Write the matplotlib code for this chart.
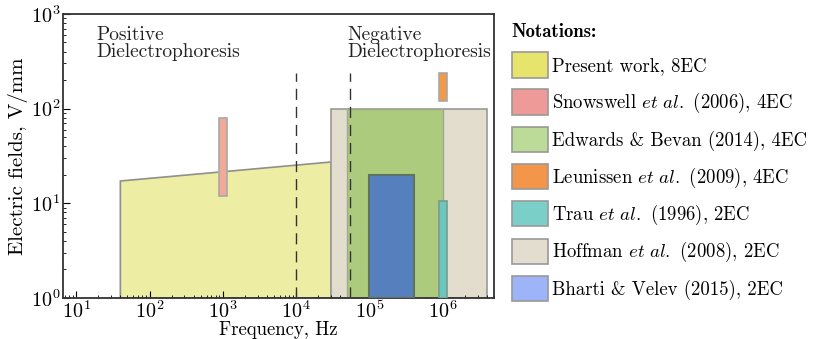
import matplotlib
matplotlib.use("Agg")
import matplotlib.pyplot as plt
from matplotlib.patches import Patch

plt.rcParams['font.family'] = 'serif'
plt.rcParams['font.serif'] = ['cmr10']
plt.rcParams['mathtext.fontset'] = 'cm'
plt.rcParams['axes.formatter.use_mathtext'] = True

# frequency ranges (Hz) and field ranges (V/mm) of each study
labels = ["Present work, 8EC",
          r"Snowswell $\mathit{et\ al.}$ (2006), 4EC",
          "Edwards & Bevan (2014), 4EC",
          r"Leunissen $\mathit{et\ al.}$ (2009), 4EC",
          r"Trau $\mathit{et\ al.}$ (1996), 2EC",
          r"Hoffman $\mathit{et\ al.}$ (2008), 2EC",
          "Bharti & Velev (2015), 2EC"]
legend_colors = ['#e6e46a', '#ee9a98', '#bcda98', '#f3964a', '#7ad0c8', '#e3ddcf', '#9db5f8']

# present work: trapezoid, field grows with frequency
present_f = [40, 40, 3e4, 3e4]
present_E = [1, 17.2, 27.3, 1]

# rectangular regions: (f_min, f_max, E_min, E_max)
snowswell = (0.9e3, 1.15e3, 12, 80)
edwards = (5e4, 1e6, 1, 100)
leunissen = (0.9e6, 1.15e6, 120, 240)
trau = (0.9e6, 1.15e6, 1, 10.6)
hoffman = (3e4, 4e6, 1, 100)
bharti = (1e5, 4e5, 1, 20)

# crossover frequencies
crossover = [1e4, 5.5e4]
crossover_top = 240


def box(ax, r, fc, ec, lw=1.2, z=1):
    f0, f1, e0, e1 = r
    ax.fill([f0, f0, f1, f1], [e0, e1, e1, e0], facecolor=fc, edgecolor=ec,
            linewidth=lw, zorder=z)


fig = plt.figure(figsize=(8.13, 3.39), dpi=100)
ax = fig.add_axes([0.0775, 0.121, 0.530, 0.838])

ax.fill(present_f, present_E, facecolor='#ededa3', edgecolor='#8f8f8f',
        linewidth=1.2, zorder=1)
box(ax, hoffman, '#e3ddce', '#999999', z=1)
box(ax, edwards, '#accb7d', '#a0a890', lw=1.0, z=2)
box(ax, bharti, '#5580bd', '#5f7262', lw=1.5, z=3)
box(ax, trau, '#6cc8bc', '#7a9a94', z=3)
box(ax, snowswell, '#f2aa98', '#a8a8a8', z=3)
box(ax, leunissen, '#f39a48', '#a8a8a8', z=3)

for fc in crossover:
    ax.plot([fc, fc], [1, crossover_top], color='#333333', linestyle=(0, (8, 5)),
            linewidth=1.0, zorder=4)

ax.set_xscale('log')
ax.set_yscale('log')
ax.set_xlim(6.6, 5e6)
ax.set_ylim(1, 1000)

ax.tick_params(which='both', direction='in', top=False, right=False)
ax.tick_params(which='major', length=5, labelsize=14.5, pad=2)
ax.tick_params(which='minor', length=2.5)
for s in ax.spines.values():
    s.set_linewidth(1.3)
    s.set_color('#333333')

ax.set_xlabel("Frequency, Hz", fontsize=13.5, labelpad=-1)
ax.set_ylabel("Electric fields, V/mm", fontsize=15, labelpad=2)

ax.text(0.077, 0.958, "Positive\nDielectrophoresis", transform=ax.transAxes,
        fontsize=14, va='top', ha='left', linespacing=0.95, color='#222222')
ax.text(0.659, 0.958, "Negative\nDielectrophoresis", transform=ax.transAxes,
        fontsize=14, va='top', ha='left', linespacing=0.95, color='#222222')

handles = [Patch(facecolor=c, edgecolor='#999999', linewidth=1.2) for c in legend_colors]
leg = fig.legend(handles, labels, loc='upper left', bbox_to_anchor=(0.620, 0.955),
                 frameon=False, fontsize=13.5, title="Notations:",
                 handlelength=1.95, handleheight=1.7, handletextpad=0.2,
                 labelspacing=0.62, borderaxespad=0)
leg.get_title().set_fontproperties({'family': 'cmb10', 'size': 13.5})
leg._legend_box.align = 'left'

fig.savefig('out.png', dpi=100)
